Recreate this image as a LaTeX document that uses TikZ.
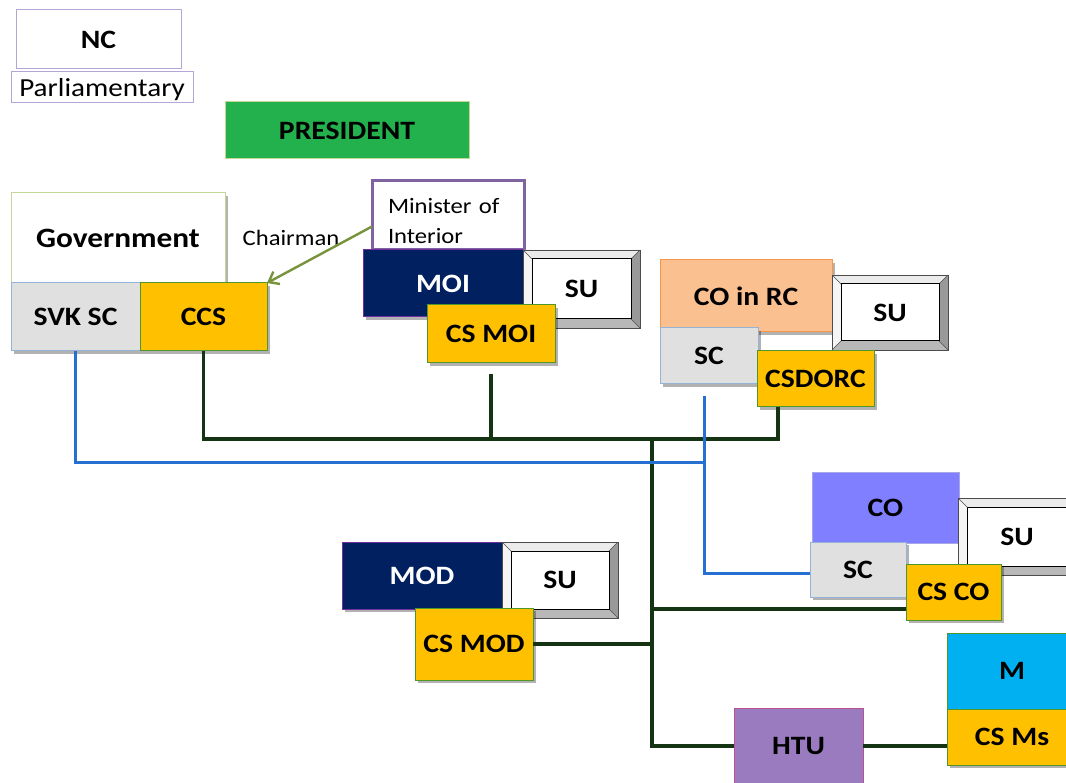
\documentclass[tikz,border=0pt]{standalone}
\usepackage{fontspec}
\setmainfont{Carlito}[FakeStretch=1.12]
\usetikzlibrary{shadows,arrows.meta,calc}

\definecolor{nclilac}{RGB}{180,167,214}
\definecolor{presgreen}{RGB}{34,177,76}
\definecolor{govgreen}{RGB}{196,215,155}
\definecolor{scgrey}{RGB}{224,224,224}
\definecolor{scedge}{RGB}{149,179,215}
\definecolor{csgold}{RGB}{255,192,0}
\definecolor{csedge}{RGB}{80,150,40}
\definecolor{arrowolive}{RGB}{119,147,60}
\definecolor{minedge}{RGB}{128,100,162}
\definecolor{navybg}{RGB}{0,32,96}
\definecolor{navyedge}{RGB}{112,48,160}
\definecolor{peach}{RGB}{250,192,144}
\definecolor{peachedge}{RGB}{247,150,70}
\definecolor{coblue}{RGB}{127,127,255}
\definecolor{mcyan}{RGB}{0,176,240}
\definecolor{htuviolet}{RGB}{155,123,192}
\definecolor{htuedge}{RGB}{190,80,150}
\definecolor{busgreen}{RGB}{20,52,20}
\definecolor{busblue}{RGB}{38,112,210}

\tikzset{
  boxbase/.style={rectangle, inner sep=0pt, outer sep=0pt, anchor=north west,
    line width=1pt, text=black},
  lbl/.style={font=\fontsize{26.5}{30}\selectfont\bfseries},
  dropsh/.style={drop shadow={shadow xshift=3pt, shadow yshift=-3pt,
    fill=black, opacity=0.3}},
  csbox/.style={boxbase, lbl, draw=csedge, fill=csgold, dropsh},
  scbox/.style={boxbase, lbl, draw=scedge, fill=scgrey, dropsh},
  ministry/.style={boxbase, lbl, draw=navyedge, fill=navybg, text=white, dropsh},
  % raised "SU" panel with bevelled frame
  subox/.style={boxbase, lbl, draw=black!70, line width=0.8pt, fill=white,
    path picture={
      \path (path picture bounding box.north west) coordinate (bvq1)
            (path picture bounding box.north east) coordinate (bvq2)
            (path picture bounding box.south east) coordinate (bvq3)
            (path picture bounding box.south west) coordinate (bvq4);
      \coordinate (bvr1) at ([xshift=9pt,yshift=-9pt]bvq1);
      \coordinate (bvr2) at ([xshift=-9pt,yshift=-9pt]bvq2);
      \coordinate (bvr3) at ([xshift=-9pt,yshift=9pt]bvq3);
      \coordinate (bvr4) at ([xshift=9pt,yshift=9pt]bvq4);
      \fill[black!8] (bvq1) -- (bvq2) -- (bvr2) -- (bvr1) -- cycle;
      \fill[black!4] (bvq1) -- (bvr1) -- (bvr4) -- (bvq4) -- cycle;
      \fill[black!40] (bvq2) -- (bvq3) -- (bvr3) -- (bvr2) -- cycle;
      \fill[black!28] (bvq4) -- (bvr4) -- (bvr3) -- (bvq3) -- cycle;
      \draw[black!70, line width=0.6pt] (bvq1) -- (bvr1) (bvq2) -- (bvr2)
            (bvq3) -- (bvr3) (bvq4) -- (bvr4);
      \draw[black, line width=1pt] (bvr1) rectangle (bvr3);
    }},
  gbus/.style={draw=busgreen, line width=3.3pt},
  bbus/.style={draw=busblue, line width=3pt},
}

\begin{document}
\begin{tikzpicture}[x=1pt, y=-1pt]
\clip (0,0) rectangle (1066,783);
\fill[white] (0,0) rectangle (1066,783);

% parliament and president
\node[boxbase, lbl, draw=nclilac, fill=white, minimum width=165, minimum height=59] (nc) at (16,10) {NC};
\node[boxbase, draw=nclilac, fill=white, minimum width=182, minimum height=31,
      font=\fontsize{26}{28}\selectfont] (parl) at (11,72) {\rule{0pt}{22pt}Parliamentary};
\node[boxbase, lbl, draw=govgreen, fill=presgreen, minimum width=244, minimum height=57] (pres) at (225,102) {PRESIDENT};

% government block
\node[boxbase, draw=govgreen, fill=white, minimum width=214, minimum height=90, dropsh,
      font=\fontsize{28}{30}\selectfont\bfseries] (gov) at (11,193) {Government};
\node[scbox, minimum width=129, minimum height=68] (svk) at (11,283) {SVK SC};
\node[csbox, minimum width=127, minimum height=68] (ccs) at (140,283) {CCS};
\node[inner sep=0pt, font=\fontsize{22}{26}\selectfont] (chair) at (291,238) {Chairman};

% ministry of interior
\node[boxbase, draw=minedge, line width=3pt, fill=white, minimum width=152, minimum height=69,
      text width=120pt, inner xsep=16pt, align=left, font=\fontsize{22}{30}\selectfont]
      (minister) at (372,181) {\rule{0pt}{27pt}Minister of\\Interior};
\node[ministry, minimum width=160, minimum height=67] (moi) at (363,250) {MOI};
\node[subox, minimum width=117, minimum height=78] (su1) at (523,250) {SU};
\node[csbox, minimum width=128, minimum height=58] (csmoi) at (427,305) {CS MOI};

% regional office
\node[boxbase, lbl, draw=peachedge, fill=peach, minimum width=172, minimum height=72, dropsh] (coinrc) at (660,260) {CO in RC};
\node[subox, minimum width=116, minimum height=75] (su2) at (832,275) {SU};
\node[scbox, minimum width=98, minimum height=56] (sc1) at (660,328) {SC};
\node[csbox, minimum width=117, minimum height=56] (csdorc) at (757,351) {CSDORC};

% central office
\node[boxbase, lbl, draw=coblue!85!black!60, fill=coblue, minimum width=147, minimum height=70] (co) at (812,473) {CO};
\node[subox, minimum width=118, minimum height=77] (su3) at (958,498) {SU};
\node[scbox, minimum width=96, minimum height=55] (sc2) at (810,542) {SC};
\node[csbox, minimum width=95, minimum height=56] (csco) at (906,564) {CS CO};

% ministry of defence
\node[ministry, minimum width=160, minimum height=67] (mod) at (342,542) {MOD};
\node[subox, minimum width=116, minimum height=76] (su4) at (502,542) {SU};
\node[csbox, minimum width=118, minimum height=72] (csmod) at (415,608) {CS MOD};

% municipalities and HTU
\node[boxbase, lbl, draw=csedge, fill=mcyan, minimum width=130, minimum height=76, dropsh] (m) at (947,633) {M};
\node[csbox, minimum width=130, minimum height=56] (csms) at (947,709) {CS Ms};
\node[boxbase, lbl, draw=htuedge, fill=htuviolet, minimum width=129, minimum height=76] (htu) at (734,708) {HTU};

% chairman arrow
\draw[draw=arrowolive, line width=2.4pt, -{Straight Barb[length=9pt,width=14pt]}]
  ([yshift=-11pt]minister.west) -- (ccs.north east);

% crisis staff bus
\coordinate (bus) at (652,439);
\coordinate (dorctap) at ([xshift=21pt]csdorc.south west);
\coordinate (cscotap) at ([yshift=11pt]csco.south west);
\draw[gbus] (ccs.south) |- (dorctap |- bus) -- (dorctap);
\draw[gbus] ([yshift=-11pt]csmoi.south) -- (csmoi.south |- bus);
\draw[gbus] (bus) |- (htu.west);
\draw[gbus] (csmod.east) -- (csmod.east -| bus);
\draw[gbus] (cscotap) -- (cscotap -| bus);
\draw[gbus] (htu.east) -- (htu.east -| csms.west);

% security council links
\coordinate (bluebus) at (704,463);
\coordinate (sctap) at ([xshift=-5pt,yshift=-12pt]sc1.south);
\draw[bbus] (svk.south) |- (sctap |- bluebus);
\draw[bbus] (sctap) |- ([yshift=-4pt]sc2.west);
\end{tikzpicture}
\end{document}
